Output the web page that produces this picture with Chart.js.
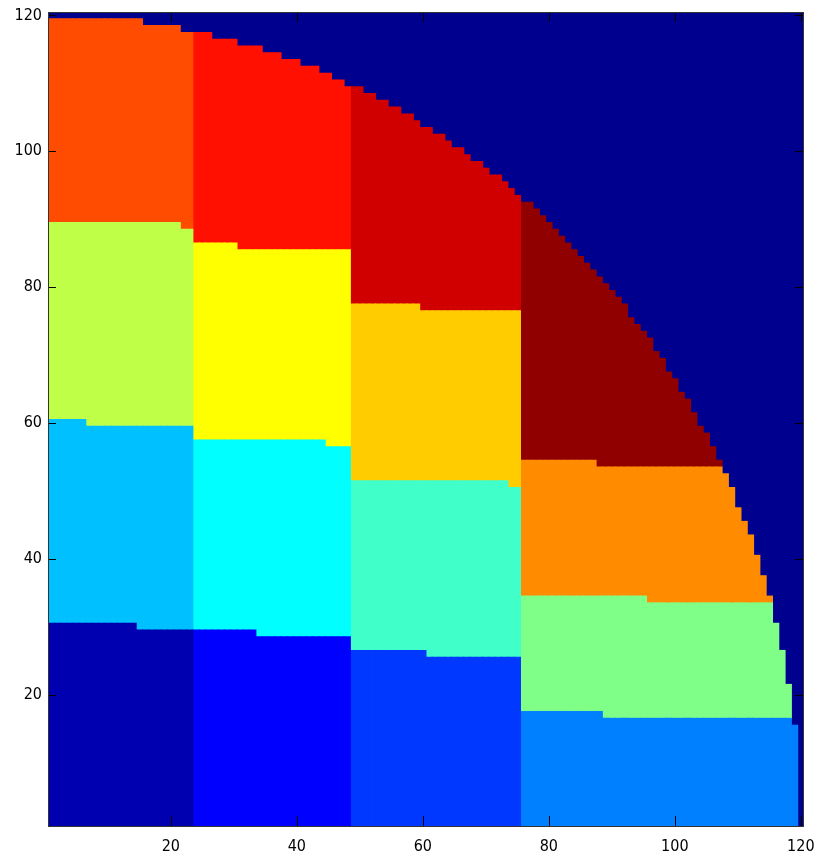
<!DOCTYPE html>
<html>
<head>
<meta charset="utf-8">
<script src="https://cdn.jsdelivr.net/npm/chart.js@4.4.0/dist/chart.umd.min.js"></script>
<style>
  html, body { margin: 0; padding: 0; background: #fff; }
</style>
</head>
<body>
<canvas id="myChart" width="825" height="855"></canvas>
<script>
// highest filled row in each column, x = 1..120 (outer edge of the quarter)
var columnTop = [
  119, 119, 119, 119, 119, 119, 119, 119, 119, 119, 119, 119, 119, 119, 119,
  118, 118, 118, 118, 118, 118, 117, 117, 117, 117, 117, 116, 116, 116, 116,
  115, 115, 115, 115, 114, 114, 114, 113, 113, 113, 112, 112, 112, 111, 111,
  110, 110, 109, 109, 109, 108, 108, 107, 107, 106, 106, 105, 105, 104, 103,
  103, 102, 102, 101, 100, 100, 99, 98, 98, 97, 96, 96, 95, 94, 93,
  92, 92, 91, 90, 89, 88, 87, 86, 85, 84, 83, 82, 81, 80, 79,
  78, 77, 75, 74, 73, 72, 70, 69, 67, 66, 64, 63, 61, 59, 58,
  56, 54, 52, 50, 47, 45, 43, 40, 37, 34, 30, 26, 21, 15, 0
];

// the four vertical bands (first and last column)
var bandFirst = [1, 24, 49, 76];
var bandLast = [23, 48, 75, 120];

// top row of the three lower layers in each band, as steps [from column, top row]
var layer1Tops = [[[1, 30], [15, 29]], [[24, 29], [34, 28]], [[49, 26], [61, 25]], [[76, 17], [89, 16]]];
var layer2Tops = [[[1, 60], [7, 59]], [[24, 57], [45, 56]], [[49, 51], [74, 50]], [[76, 34], [96, 33]]];
var layer3Tops = [[[1, 89], [22, 88]], [[24, 86], [31, 85]], [[49, 77], [60, 76]], [[76, 54], [88, 53]]];

// jet colours of regions 1..16 (layer by layer, band by band) and of the empty area
var regionColors = [
  "#0000B0", "#0000FF", "#0038FF", "#0080FF",
  "#00C0FF", "#00FFFF", "#40FFC8", "#80FF88",
  "#C0FF48", "#FFFF00", "#FFCC00", "#FF8C00",
  "#FF4C00", "#FF1000", "#D00000", "#900000"
];
var emptyColor = "#00008F";

var tickValues = [20, 40, 60, 80, 100, 120];

var columns = [];
for (var c = 1; c <= columnTop.length; c++) columns.push(c);

function stepTop(steps, col) {
  var top = steps[0][1];
  steps.forEach(function (s) {
    if (col >= s[0]) top = s[1];
  });
  return top;
}

var layers = [layer1Tops, layer2Tops, layer3Tops, null];
var datasets = [];
layers.forEach(function (layer, li) {
  for (var b = 0; b < 4; b++) {
    var data = columns.map(function (col) {
      if (col < bandFirst[b] || col > bandLast[b]) return null;
      var edge = columnTop[col - 1];
      var lo = li === 0 ? 0 : stepTop(layers[li - 1][b], col);
      var hi = layer ? stepTop(layer[b], col) : edge;
      hi = Math.min(hi, edge);
      if (hi <= lo) return null;
      return [lo + 0.5, hi + 0.5];
    });
    datasets.push({
      data: data,
      backgroundColor: regionColors[li * 4 + b],
      borderWidth: 0,
      borderSkipped: false,
      inflateAmount: 0.5,
      barPercentage: 1,
      categoryPercentage: 1
    });
  }
});

// navy fill behind the bars, black box and inward ticks on all four sides
var frame = {
  id: "frame",
  beforeDatasetsDraw: function (chart) {
    var a = chart.chartArea, ctx = chart.ctx;
    ctx.save();
    ctx.fillStyle = emptyColor;
    ctx.fillRect(a.left, a.top, a.right - a.left, a.bottom - a.top);
    ctx.restore();
  },
  afterDraw: function (chart) {
    var a = chart.chartArea, ctx = chart.ctx;
    var xs = chart.scales.x, ys = chart.scales.y;
    ctx.save();
    ctx.strokeStyle = "#000";
    ctx.lineWidth = 1;
    ctx.beginPath();
    tickValues.forEach(function (v) {
      var px = Math.round(xs.getPixelForValue(v - 1)) + 0.5;
      ctx.moveTo(px, a.bottom);
      ctx.lineTo(px, a.bottom - 11);
      ctx.moveTo(px, a.top);
      ctx.lineTo(px, a.top + 10);
      var py = Math.round(ys.getPixelForValue(v)) + 0.5;
      ctx.moveTo(a.left, py);
      ctx.lineTo(a.left + 8, py);
      ctx.moveTo(a.right, py);
      ctx.lineTo(a.right - 9, py);
    });
    ctx.stroke();
    ctx.strokeStyle = "#333";
    ctx.strokeRect(a.left + 0.5, a.top + 0.5, a.right - a.left - 1, a.bottom - a.top - 1);
    ctx.restore();
  }
};

var tickFont = { family: "'DejaVu Sans Condensed', 'Liberation Sans', sans-serif", size: 16 };

var ctx = document.getElementById("myChart").getContext("2d");
var chart = new Chart(ctx, {
  type: "bar",
  data: { labels: columns, datasets: datasets },
  options: {
    responsive: false,
    animation: false,
    devicePixelRatio: 1,
    layout: { padding: { left: 0, right: 21, top: 12, bottom: 0 } },
    plugins: { legend: { display: false }, tooltip: { enabled: false } },
    scales: {
      x: {
        type: "category",
        stacked: true,
        offset: true,
        grid: { display: false, drawTicks: false },
        border: { display: false },
        ticks: {
          autoSkip: false,
          maxRotation: 0,
          padding: 10,
          color: "#000",
          font: tickFont,
          callback: function (value) {
            var label = this.getLabelForValue(value);
            return tickValues.indexOf(label) >= 0 ? String(label) : null;
          }
        },
        afterFit: function (scale) {
          scale.height = 28;
          scale.paddingLeft = 0;
          scale.paddingRight = 0;
        }
      },
      y: {
        type: "linear",
        min: 0.5,
        max: 120.5,
        grid: { display: false, drawTicks: false },
        border: { display: false },
        ticks: { padding: 6, color: "#000", font: tickFont },
        afterBuildTicks: function (scale) {
          scale.ticks = tickValues.map(function (v) { return { value: v }; });
        },
        afterFit: function (scale) {
          scale.width = 48;
          scale.paddingTop = 0;
          scale.paddingBottom = 0;
        }
      }
    }
  },
  plugins: [frame]
});
</script>
</body>
</html>
